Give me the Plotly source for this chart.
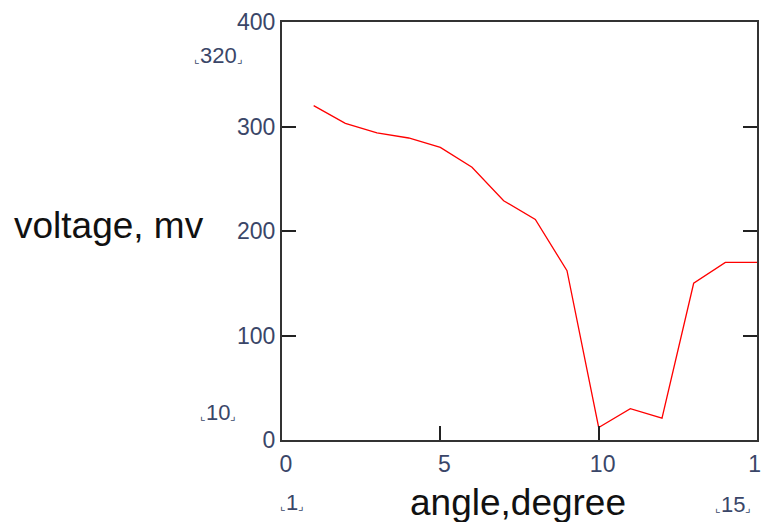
import plotly.graph_objects as go

angle = [1, 2, 3, 4, 5, 6, 7, 8, 9, 10, 11, 12, 13, 14, 15]
voltage = [320, 303, 294, 289, 280, 261, 229, 211, 162, 12, 30, 21, 150, 170, 170]

x_ticks = [0, 5, 10, 15]
y_ticks = [0, 100, 200, 300, 400]

# Mathcad limit markers
y_limits = ["320", "10"]
x_limits = ["1", "15"]

x_title = "angle,degree"
y_title = "voltage, mv"

tick_font = dict(family="Liberation Sans Narrow, Arial Narrow, Liberation Sans", size=23, color="#3a4668")
title_font = dict(family="Liberation Sans, Arial", size=37, color="#111111")

fig = go.Figure()
fig.add_trace(go.Scatter(x=angle, y=voltage, mode="lines",
                         line=dict(color="#ff0000", width=1.3), showlegend=False,
                         hoverinfo="skip"))

axis_common = dict(showline=True, linewidth=2, linecolor="#333333", showgrid=False,
                   zeroline=False, ticks="inside", ticklen=14, tickwidth=2,
                   tickcolor="#222222", tickfont=tick_font, automargin=False,
                   ticklabeloverflow="allow")

fig.update_xaxes(range=[0, 15], tickvals=x_ticks, ticktext=[str(v) for v in x_ticks],
                 mirror=True, ticklabelshift=4, ticklabelstandoff=2, **axis_common)
fig.update_yaxes(range=[0, 400], tickvals=y_ticks, ticktext=[str(v) for v in y_ticks],
                 mirror="ticks", ticklabelstandoff=0, **axis_common)

def marker_text(v):
    return ("<span style='font-size:12px'>⌞</span>" + v +
            "<span style='font-size:12px'>⌟</span>")

ann = []
ann.append(dict(text=marker_text(y_limits[0]), x=-0.133, y=0.92))
ann.append(dict(text=marker_text(y_limits[1]), x=-0.135, y=0.065))
ann.append(dict(text=marker_text(x_limits[0]), x=0.021, y=-0.15))
ann.append(dict(text=marker_text(x_limits[1]), x=0.949, y=-0.155))
for a in ann:
    a.update(xref="paper", yref="paper", showarrow=False, xanchor="center",
             yanchor="middle", font=dict(tick_font, size=22))

ann.append(dict(text=y_title, x=-0.364, y=0.514, xref="paper", yref="paper",
                showarrow=False, xanchor="center", yanchor="middle", font=title_font))
ann.append(dict(text=x_title, x=0.497, y=-0.15, xref="paper", yref="paper",
                showarrow=False, xanchor="center", yanchor="middle", font=title_font))

fig.update_layout(width=761, height=514,
                  margin=dict(l=274, r=12, t=14, b=82, autoexpand=False),
                  paper_bgcolor="white", plot_bgcolor="white", annotations=ann)

fig.write_html("out.html")
